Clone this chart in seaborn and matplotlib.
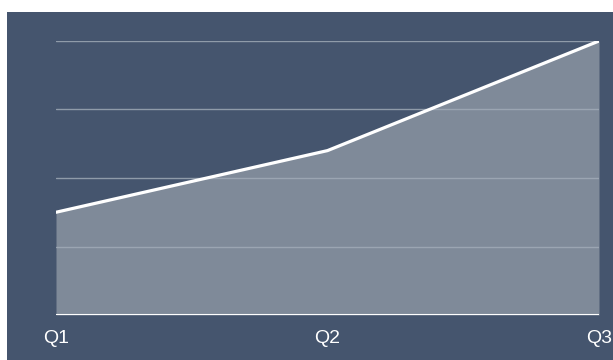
import seaborn as sns
import pandas as pd
import matplotlib.pyplot as plt
import matplotlib.patches as mpatches

quarters = ['Q1', 'Q2', 'Q3']
values = [30, 48, 80]
grid_levels = [0, 20, 40, 60, 80]

bg = '#45556e'
fill = '#7f8a99'

sns.set_theme(style='white')
plt.rcParams['font.family'] = ['Liberation Sans', 'DejaVu Sans']

data = pd.DataFrame({'quarter': range(len(quarters)), 'value': values})

fig = plt.figure(figsize=(6.13, 3.6), dpi=100, facecolor='white')
# dark panel with a thin white margin at top and left
fig.patches.append(mpatches.Rectangle((7 / 613, 0), 1, 348 / 360, transform=fig.transFigure,
                                      facecolor=bg, edgecolor='none', zorder=-10))
ax = fig.add_axes([56 / 613, 45 / 360, 543 / 613, 274 / 360])
ax.set_zorder(5)
ax.set_facecolor(bg)

ax.fill_between(data['quarter'], 0, data['value'], color=fill, lw=0, zorder=1)
for g in grid_levels[1:]:
    ax.axhline(g, color='#a3adb9', lw=1.0, alpha=0.8, zorder=2)
sns.lineplot(x='quarter', y='value', data=data, color='white', lw=2.3, ax=ax, zorder=3)
ax.axhline(0, color='white', lw=1.5, zorder=3)

ax.set_xlim(0, len(quarters) - 1)
ax.set_ylim(0, grid_levels[-1])
ax.set_xticks(range(len(quarters)))
ax.set_xticklabels(quarters, color='white', fontsize=14)
ax.tick_params(axis='x', length=0, pad=11)
ax.set_yticks([])
ax.set_xlabel('')
ax.set_ylabel('')
for s in ax.spines.values():
    s.set_visible(False)

fig.savefig('out.png', dpi=100, facecolor='white')
